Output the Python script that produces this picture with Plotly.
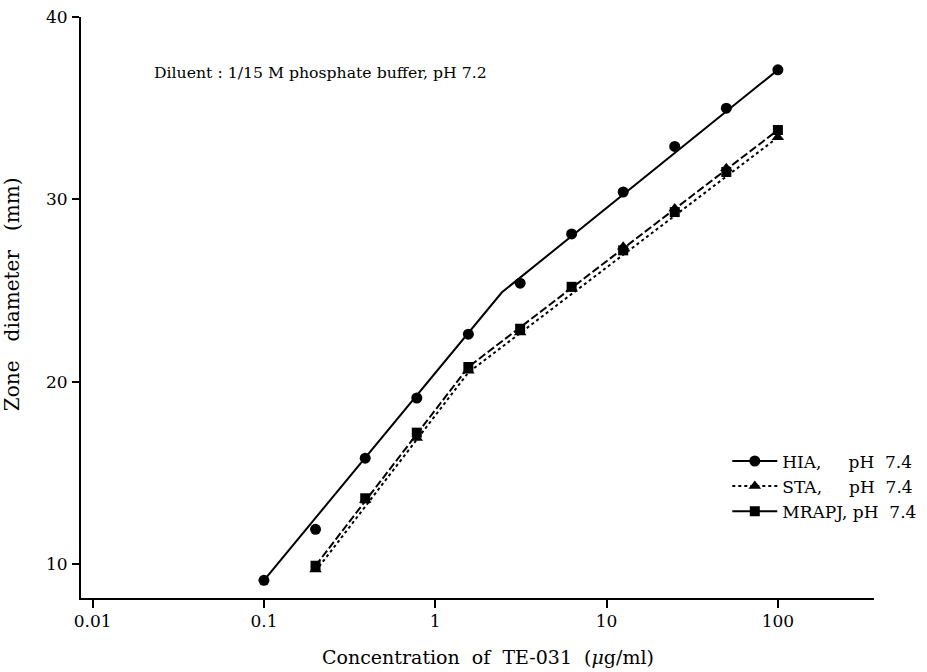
import plotly.graph_objects as go

# Two-fold dilution series of TE-031 (ug/ml)
conc = [0.1, 0.2, 0.39, 0.78, 1.56, 3.13, 6.25, 12.5, 25, 50, 100]

# Zone diameters (mm) measured on each medium
hia_zone = [9.1, 11.9, 15.8, 19.1, 22.6, 25.4, 28.1, 30.4, 32.9, 35.0, 37.1]
sta_conc = conc[1:]
sta_zone = [9.7, 13.5, 16.9, 20.6, 22.7, 25.1, 27.4, 29.5, 31.7, 33.4]
mrapj_conc = conc[1:]
mrapj_zone = [9.9, 13.6, 17.2, 20.8, 22.9, 25.2, 27.2, 29.3, 31.5, 33.8]

# Fitted regression lines (break points of each two-segment fit)
hia_fit_conc = [0.1, 2.45, 100]
hia_fit_zone = [9.1, 24.9, 37.1]
sta_fit_conc = [0.2, 1.56, 100]
sta_fit_zone = [9.6, 20.5, 33.4]
mrapj_fit_conc = [0.2, 1.56, 100]
mrapj_fit_zone = [9.9, 20.8, 33.8]

x_tickvals = [0.01, 0.1, 1, 10, 100]
x_ticktext = ["0.01", "0.1", "1", "10", "100"]
y_tickvals = [10, 20, 30, 40]

NB = "\u00a0"
series_names = [
    "HIA," + NB * 5 + "pH" + NB * 2 + "7.4",
    "STA," + NB * 5 + "pH" + NB * 2 + "7.4",
    "MRAPJ, pH" + NB * 2 + "7.4",
]

FONT = "DejaVu Serif, Liberation Serif, serif"
INK = "black"

fig = go.Figure()

styles = [
    (hia_fit_conc, hia_fit_zone, conc, hia_zone, "circle", "solid", "solid"),
    (sta_fit_conc, sta_fit_zone, sta_conc, sta_zone, "triangle-up", "3px,3px", "3px,3px"),
    (mrapj_fit_conc, mrapj_fit_zone, mrapj_conc, mrapj_zone, "square", "8px,3px", "solid"),
]
marker_sizes = {"circle": 11, "triangle-up": 11, "square": 10}

for name, (fx, fy, px, py, sym, dash, legend_dash) in zip(series_names, styles):
    # fitted line
    fig.add_trace(go.Scatter(
        x=fx, y=fy, mode="lines",
        line=dict(color=INK, width=2, dash=dash),
        showlegend=False, hoverinfo="skip",
    ))
    # measured points
    fig.add_trace(go.Scatter(
        x=px, y=py, mode="markers",
        marker=dict(symbol=sym, size=marker_sizes[sym], color=INK),
        showlegend=False,
    ))
    # legend entry (line with marker)
    fig.add_trace(go.Scatter(
        x=[None], y=[None], mode="lines+markers", name=name,
        line=dict(color=INK, width=2, dash=legend_dash),
        marker=dict(symbol=sym, size=marker_sizes[sym], color=INK),
    ))

# medium note
fig.add_annotation(
    text="Diluent : 1/15 M phosphate buffer, pH 7.2",
    xref="paper", yref="paper", x=0.09, y=0.905,
    xanchor="left", yanchor="middle", showarrow=False,
    font=dict(family=FONT, size=15.7, color=INK),
)
# axis titles
fig.add_annotation(
    text="Concentration  of  TE-031  (<i>μ</i>g/ml)",
    xref="paper", yref="paper", x=0.513, y=-0.1015,
    xanchor="center", yanchor="middle", showarrow=False,
    font=dict(family=FONT, size=19, color=INK),
)
fig.add_annotation(
    text="Zone" + NB * 3 + "diameter" + NB * 3 + "(mm)",
    xref="paper", yref="paper", x=-0.087, y=0.523,
    xanchor="center", yanchor="middle", showarrow=False, textangle=-90,
    font=dict(family=FONT, size=20, color=INK),
)

fig.update_xaxes(
    type="log", range=[-2.068, 2.561],
    tickvals=x_tickvals, ticktext=x_ticktext,
    showline=True, linecolor=INK, linewidth=2,
    ticks="outside", ticklen=8, tickwidth=2, tickcolor=INK,
    showgrid=False, zeroline=False, automargin=False,
    tickfont=dict(family=FONT, size=17, color=INK),
    ticklabelstandoff=-1,
)
fig.update_yaxes(
    range=[8.13, 40],
    tickvals=y_tickvals,
    showline=True, linecolor=INK, linewidth=2,
    ticks="outside", ticklen=7, tickwidth=2, tickcolor=INK,
    showgrid=False, zeroline=False, automargin=False,
    tickfont=dict(family=FONT, size=17, color=INK),
    ticklabelstandoff=1,
)

fig.update_layout(
    width=927, height=672,
    margin=dict(l=81, r=53, t=17, b=74, autoexpand=False),
    paper_bgcolor="white", plot_bgcolor="white",
    font=dict(family=FONT, color=INK),
    legend=dict(
        x=0.815, y=0.266, xanchor="left", yanchor="top",
        font=dict(family=FONT, size=17, color=INK),
        bgcolor="rgba(0,0,0,0)", tracegroupgap=0,
        itemwidth=45,
    ),
)

fig.write_html("out.html")
